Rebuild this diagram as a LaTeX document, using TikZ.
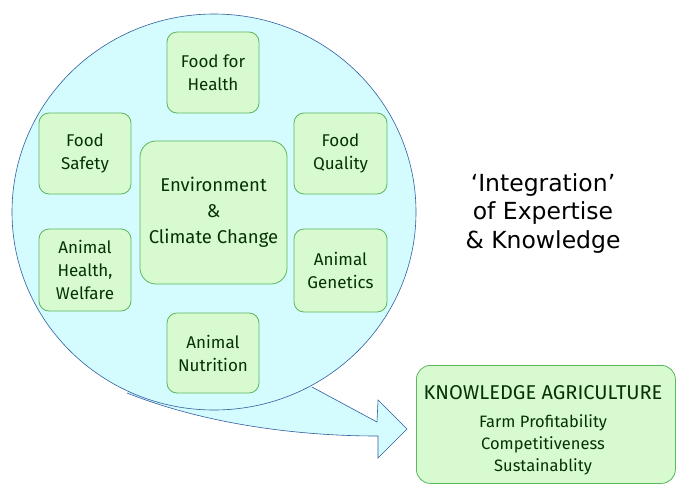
\documentclass[tikz,border=0pt]{standalone}
\usepackage{fontspec}
\usetikzlibrary{shapes.geometric}
\setmainfont{Fira Sans}
\newfontfamily\verd{DejaVu Sans}
\definecolor{circfill}{RGB}{212,251,253}
\definecolor{circline}{RGB}{47,95,159}
\definecolor{boxfill}{RGB}{216,250,208}
\definecolor{boxline}{RGB}{92,184,92}
\definecolor{boxtext}{RGB}{5,50,5}
\tikzset{
  topic/.style={draw=boxline, fill=boxfill, rounded corners=10pt, line width=0.8pt,
    text=boxtext, align=center, font=\fontsize{17}{23}\selectfont, inner sep=0pt},
}
\begin{document}
\begin{tikzpicture}[x=1pt,y=-1pt]
\useasboundingbox (0,0) rectangle (690,485);
% callout arrow fill
\coordinate (a1) at (312,387);
\coordinate (a2) at (377,422);
\coordinate (a3) at (378,400);
\coordinate (tip) at (407,429);
\coordinate (a4) at (378,458);
\coordinate (a5) at (378,436);
\coordinate (a6) at (127,393);
\fill[circfill] (a1) -- (a2) -- (a3) -- (tip) -- (a4) -- (a5) .. controls (290,436) and (200,422) .. (a6) -- (214,300) -- cycle;
% circle
\node[draw=circline, fill=circfill, ellipse, minimum width=404pt, minimum height=396pt, inner sep=0pt, line width=0.6pt] (bubble) at (214,212) {};
% arrow outline
\draw[circline, line width=0.6pt, line join=miter] (a1) -- (a2) -- (a3) -- (tip) -- (a4) -- (a5) .. controls (290,436) and (200,422) .. (a6);
% topic boxes
\node[topic, minimum width=92pt, minimum height=81pt] (ffh) at (213,72.5) {Food for\\Health};
\node[topic, minimum width=92pt, minimum height=81pt] (fs) at (85,153.5) {Food\\Safety};
\node[topic, minimum width=93pt, minimum height=81pt] (fq) at (340.5,153.5) {Food\\Quality};
\node[topic, minimum width=147pt, minimum height=143pt, rounded corners=16pt, font=\fontsize{18.5}{26}\selectfont] (env) at (213.5,212.5) {Environment\\\&\\Climate Change};
\node[topic, minimum width=92pt, minimum height=82pt] (ahw) at (85,270) {Animal\\Health,\\Welfare};
\node[topic, minimum width=93pt, minimum height=83pt] (ag) at (340.5,270.5) {Animal\\Genetics};
\node[topic, minimum width=92pt, minimum height=80pt] (an) at (213,353) {Animal\\Nutrition};
% side text
\node[align=center, font=\verd\fontsize{23.5}{28.3}\selectfont, text=black] (integ) at (543,213.5) {‘Integration’\\of Expertise\\\& Knowledge};
% knowledge agriculture box
\node[topic, minimum width=259pt, minimum height=118pt, anchor=north west, rounded corners=14pt] (ka) at (416,365) {};
\node[text=boxtext, font=\fontsize{20}{24}\selectfont, inner sep=0pt] (kat) at (543,393) {KNOWLEDGE AGRICULTURE};
\node[text=boxtext, align=center, font=\fontsize{16.5}{22}\selectfont, inner sep=0pt] (kal) at (543,445) {Farm Profitability\\Competitiveness\\Sustainablity};
\end{tikzpicture}
\end{document}
